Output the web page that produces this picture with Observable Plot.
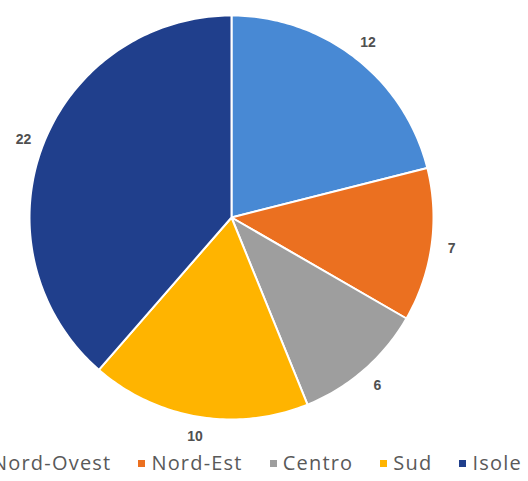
<!DOCTYPE html>
<html><head><meta charset="utf-8">
<script src="https://cdn.jsdelivr.net/npm/d3@7"></script>
<script src="https://cdn.jsdelivr.net/npm/@observablehq/plot@0.6"></script>
<style>
body{margin:0;background:#fff;overflow:hidden;width:528px;height:481px;font-family:"Open Sans",sans-serif;position:relative}
#legend{position:absolute;left:-21px;top:449px;white-space:nowrap;font-size:20px;letter-spacing:1.2px;color:#595959;font-family:"Open Sans",sans-serif;line-height:28px}
#legend span.item{margin-right:27px}
#legend span.sw{display:inline-block;width:7px;height:7px;margin-right:6px;vertical-align:middle;position:relative;top:-1px}
</style></head>
<body>
<div id="chart"></div>
<div id="legend"></div>
<script>
const categories = ["Nord-Ovest","Nord-Est","Centro","Sud","Isole"];
const values = [12,7,6,10,22];
const colors = ["#4889d4","#eb7020","#9e9e9e","#ffb400","#203f8c"];

const total = d3.sum(values);
const pts = [];
const labels = [];
let acc = 0;
categories.forEach((c,i)=>{
  const a0 = acc/total*2*Math.PI;
  acc += values[i];
  const a1 = acc/total*2*Math.PI;
  pts.push({cat:c,x:0,y:0});
  const n = Math.max(4, Math.ceil((a1-a0)*60));
  for(let k=0;k<=n;k++){
    const a = a0+(a1-a0)*k/n;
    pts.push({cat:c,x:Math.sin(a),y:Math.cos(a)});
  }
  const am = (a0+a1)/2;
  labels.push({cat:c,v:values[i],x:1.1*Math.sin(am),y:1.1*Math.cos(am)});
});

const chart = Plot.plot({
  width:528, height:481,
  marginLeft:29, marginRight:95, marginTop:15, marginBottom:62,
  x:{domain:[-1,1],axis:null},
  y:{domain:[-1,1],axis:null},
  color:{domain:categories,range:colors},
  marks:[
    Plot.line(pts,{x:"x",y:"y",z:"cat",fill:"cat",stroke:"white",strokeWidth:2,curve:"linear-closed"}),
    Plot.text(labels,{x:"x",y:"y",text:d=>String(d.v),fill:"#505050",fontSize:14,fontWeight:"bold",fontFamily:"Liberation Sans"})
  ]
});
chart.style.position="absolute"; chart.style.left="0"; chart.style.top="0";
document.getElementById("chart").appendChild(chart);

const lg = document.getElementById("legend");
categories.forEach((c,i)=>{
  const s = document.createElement("span"); s.className="item";
  s.innerHTML = `<span class="sw" style="background:${colors[i]}"></span>${c}`;
  lg.appendChild(s);
});
</script>
</body></html>
